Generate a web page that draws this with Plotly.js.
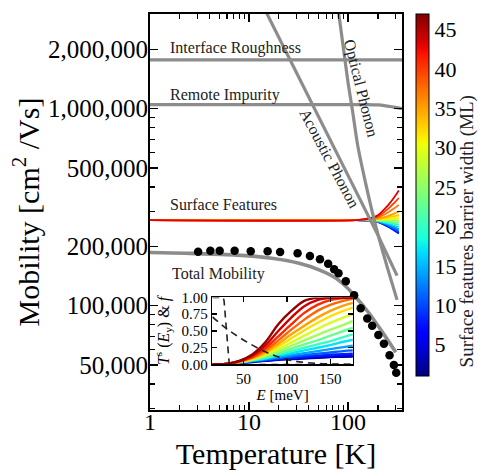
<!DOCTYPE html>
<html><head><meta charset="utf-8">
<script src="https://cdn.plot.ly/plotly-3.0.1.min.js"></script>
<style>html,body{margin:0;padding:0;background:#fff}</style>
</head><body><div id="chart" style="width:478px;height:470px"></div>
<script>
const FONT = '"Liberation Serif", "Times New Roman", serif';

// ---------- data ----------
// barrier widths (ML) of the curves in the main-plot fan and in the inset
const fanWidths = [6,8,10,12,14,17,20,23,26,29,31,33,35,37,40,43];
const insetWidths = [2,5,8,11,14,17,20,23,26,29,32,35,38,41,44,46];

const sfTemp = [1,120,160,200,250,290,325];
const sfMob = [
 [272e3,272e3,270e3,265.5e3,252.5e3,241.5e3,232.5e3],
 [272e3,272e3,270e3,266e3,253e3,243e3,234e3],
 [272e3,272e3,270.5e3,266e3,255e3,245e3,237e3],
 [272e3,272e3,270.5e3,267e3,257e3,248e3,241e3],
 [272e3,272e3,271e3,268e3,259e3,251.5e3,245e3],
 [272e3,272e3,271e3,269e3,262e3,256e3,251e3],
 [272e3,272e3,271.5e3,270e3,265e3,260.5e3,257e3],
 [272e3,272e3,272e3,271e3,268e3,265e3,263e3],
 [272e3,272e3,272e3,272e3,271e3,270e3,269e3],
 [272e3,272e3,272e3,273e3,274e3,275e3,276e3],
 [272e3,272e3,273e3,274e3,277e3,280e3,282e3],
 [272e3,272e3,273e3,275e3,280e3,285e3,289e3],
 [272e3,272e3,274e3,277e3,285e3,293e3,300e3],
 [272e3,272e3,275e3,280e3,296e3,311e3,325e3],
 [272e3,272e3,276e3,284e3,308e3,331e3,352e3],
 [272e3,272e3,277e3,288e3,321e3,353e3,384e3]
];

const irTemp = [1,350];
const irMob = [1.77e6,1.77e6];

const riTemp = [1,150,200,250,300,350];
const riMob = [1.05e6,1.05e6,1.045e6,1.03e6,1.015e6,1.0e6];

const acTemp = [14,20,50,100,200,312];
const acMob = [3.29e6,2.3e6,9.2e5,4.6e5,2.28e5,1.42e5];

const opTemp = [78,80,90,100,110,125,150,175,200,250,312];
const opMob = [3.4e6,3.1e6,2.0e6,1.35e6,1.0e6,6.5e5,4.2e5,3.0e5,2.3e5,1.55e5,1.07e5];

const totTemp = [1,2.3,6.9,17,32,51,75,95,115,163,220,303];
const totMob = [186e3,184.5e3,181e3,174e3,164e3,152e3,138e3,125e3,113e3,91.5e3,73.8e3,58e3];

const expTemp = [3.06,4.07,5.05,7.15,10.4,15.4,20.6,30.9,41.2,52,62.9,72.3,80,94.8,115,134,156,175,202,230,262,290,306];
const expMob = [188e3,190e3,190e3,190e3,189e3,189e3,187e3,184.5e3,178.8e3,172e3,163e3,153e3,146e3,133e3,113e3,97e3,86e3,79e3,71e3,64e3,56e3,50e3,45.6e3];

// inset
const insE = [14,30,45,60,75,90,105,120,135,150,165,176];
const insT = [
 [0,0.01,0.025,0.04,0.055,0.07,0.08,0.09,0.1,0.11,0.116,0.12],
 [0,0.01,0.026,0.042,0.06,0.075,0.09,0.1,0.11,0.12,0.127,0.13],
 [0,0.01,0.027,0.045,0.065,0.085,0.1,0.115,0.13,0.145,0.155,0.16],
 [0,0.01,0.028,0.05,0.07,0.095,0.12,0.14,0.16,0.18,0.2,0.21],
 [0,0.01,0.03,0.055,0.08,0.11,0.14,0.17,0.2,0.23,0.26,0.28],
 [0,0.01,0.032,0.06,0.09,0.13,0.17,0.21,0.25,0.29,0.34,0.37],
 [0,0.01,0.033,0.065,0.1,0.15,0.2,0.25,0.3,0.35,0.41,0.45],
 [0,0.01,0.035,0.07,0.115,0.17,0.235,0.3,0.36,0.43,0.5,0.55],
 [0,0.01,0.036,0.075,0.13,0.2,0.28,0.36,0.44,0.52,0.59,0.65],
 [0,0.01,0.038,0.08,0.145,0.23,0.33,0.43,0.53,0.62,0.7,0.75],
 [0,0.01,0.04,0.085,0.16,0.27,0.39,0.51,0.62,0.72,0.8,0.85],
 [0,0.01,0.042,0.095,0.18,0.31,0.45,0.58,0.7,0.8,0.88,0.92],
 [0,0.01,0.045,0.105,0.21,0.36,0.52,0.67,0.8,0.89,0.95,0.98],
 [0,0.01,0.048,0.115,0.24,0.42,0.6,0.77,0.89,0.96,0.99,1.0],
 [0,0.01,0.05,0.13,0.28,0.5,0.7,0.87,0.96,0.995,1,1],
 [0,0.01,0.055,0.15,0.33,0.6,0.8,0.95,0.995,1,1,1]
];
const fermiColdE = [14,26.5,27.5,30,32.5,33.5,176];
const fermiColdF = [1,1,0.95,0.5,0.05,0,0];
const fermiHotE = [14,30,47,67,86,109,133,156,176];
const fermiHotF = [0.71,0.54,0.39,0.24,0.13,0.05,0.018,0.006,0.002];

const xTickVals = [1,10,100];
const xTickText = ['1','10','100'];
const xMinor = [2,3,4,5,6,7,8,9,20,30,40,50,60,70,80,90,200,300];
const yTickVals = [5e4,1e5,2e5,5e5,1e6,2e6];
const yTickText = ['50,000','100,000','200,000','500,000','1,000,000','2,000,000'];
const yMinor = [3e4,4e4,6e4,7e4,8e4,9e4,3e5,4e5,6e5,7e5,8e5,9e5,3e6];
const cbTicks = [5,10,15,20,25,30,35,40,45];

// ---------- style helpers ----------
function seg(pts, t){
  for(let i=0;i<pts.length-1;i++){
    const [x0,y0]=pts[i],[x1,y1]=pts[i+1];
    if(t<=x1) return y0+(y1-y0)*(t-x0)/(x1-x0);
  }
  return pts[pts.length-1][1];
}
function jet(t){
  t=Math.max(0,Math.min(1,t));
  const r=seg([[0,0],[0.35,0],[0.66,1],[0.89,1],[1,0.5]],t);
  const g=seg([[0,0],[0.125,0],[0.375,1],[0.64,1],[0.91,0],[1,0]],t);
  const b=seg([[0,0.5],[0.11,1],[0.34,1],[0.65,0],[1,0]],t);
  return `rgb(${Math.round(r*255)},${Math.round(g*255)},${Math.round(b*255)})`;
}
const CMIN=1, CMAX=47;
const jetScale=[]; for(let i=0;i<=50;i++){ jetScale.push([i/50, jet(i/50)]); }
const GRAY='#8c8c8c';
const cw=w=>jet((w-CMIN)/(CMAX-CMIN));

const traces=[];
fanWidths.forEach((w,i)=>{
  traces.push({x:sfTemp,y:sfMob[i],mode:'lines',line:{color:cw(w),width:1.8,shape:'spline',smoothing:0.8},hoverinfo:'skip'});
});
traces.push({x:irTemp,y:irMob,mode:'lines',line:{color:GRAY,width:3.2},hoverinfo:'skip'});
traces.push({x:riTemp,y:riMob,mode:'lines',line:{color:GRAY,width:3.2,shape:'spline'},hoverinfo:'skip'});
traces.push({x:acTemp,y:acMob,mode:'lines',line:{color:GRAY,width:3.2},hoverinfo:'skip'});
traces.push({x:opTemp,y:opMob,mode:'lines',line:{color:GRAY,width:3.2,shape:'spline',smoothing:0.6},hoverinfo:'skip'});
traces.push({x:totTemp,y:totMob,mode:'lines',line:{color:GRAY,width:3.6,shape:'spline',smoothing:0.8},hoverinfo:'skip'});
traces.push({x:expTemp,y:expMob,mode:'markers',marker:{color:'black',size:8.5},hoverinfo:'skip'});
insetWidths.forEach((w,i)=>{
  traces.push({x:insE,y:insT[i],xaxis:'x2',yaxis:'y2',mode:'lines',line:{color:cw(w),width:2.4,shape:'spline',smoothing:0.9},hoverinfo:'skip'});
});
traces.push({x:fermiColdE,y:fermiColdF,xaxis:'x2',yaxis:'y2',mode:'lines',line:{color:'#222',width:1.6,dash:'7px,5px'},hoverinfo:'skip'});
traces.push({x:fermiHotE,y:fermiHotF,xaxis:'x2',yaxis:'y2',mode:'lines',line:{color:'#222',width:1.6,dash:'7px,5px',shape:'spline'},hoverinfo:'skip'});
// colorbar carrier (point outside the axis range, so only the colour bar shows)
traces.push({x:[0.5],y:[1e5],mode:'markers',marker:{size:1,color:[fanWidths[0]],colorscale:jetScale,cmin:CMIN,cmax:CMAX,showscale:true,
  colorbar:{x:1.056,xanchor:'left',y:1,yanchor:'top',len:362,lenmode:'pixels',thickness:13,thicknessmode:'pixels',xpad:0,ypad:0,
    outlinewidth:1,outlinecolor:'black',tickmode:'array',tickvals:cbTicks,ticks:'',tickfont:{family:FONT,size:22,color:'black'}}},hoverinfo:'skip'});

const axBase={showline:true,linecolor:'black',linewidth:2,mirror:'ticks',ticks:'inside',tickcolor:'black',showgrid:false,zeroline:false};
const ann=(text,x,y,size,extra)=>Object.assign({text,x,y,xref:'paper',yref:'paper',showarrow:false,font:{family:FONT,size,color:'#222'},xanchor:'left',yanchor:'middle'},extra||{});

const layout={
  width:478,height:470,
  margin:{l:150,r:75.5,t:14,b:60},
  paper_bgcolor:'white',plot_bgcolor:'white',
  font:{family:FONT,color:'black'},
  showlegend:false,
  xaxis:Object.assign({},axBase,{type:'log',range:[0,Math.log10(350)],tickmode:'array',tickvals:xTickVals,ticktext:xTickText,ticklen:8,tickwidth:1.5,
    tickfont:{family:FONT,size:24},ticklabelstandoff:-11,minor:{tickmode:'array',tickvals:xMinor,ticks:'inside',ticklen:5,tickwidth:1.2,tickcolor:'black'},
    title:{text:'Temperature [K]',font:{family:FONT,size:30},standoff:9}}),
  yaxis:Object.assign({},axBase,{type:'log',range:[4.47,6.481],tickmode:'array',tickvals:yTickVals,ticktext:yTickText,ticklen:8,tickwidth:1.5,
    tickfont:{family:FONT,size:25},ticklabelstandoff:-5,minor:{tickmode:'array',tickvals:yMinor,ticks:'inside',ticklen:5,tickwidth:1.2,tickcolor:'black'},
    title:{text:'Mobility [cm<sup>2</sup> /Vs]',font:{family:FONT,size:30},standoff:0}}),
  xaxis2:Object.assign({},axBase,{domain:[0.2475,0.8051],anchor:'y2',range:[14,176],linewidth:1.5,tickmode:'array',tickvals:[50,100,150],ticklen:5,tickwidth:1.5,
    tickfont:{family:FONT,size:15},title:{text:'<i>E</i> [meV]',font:{family:FONT,size:15},standoff:0}}),
  yaxis2:Object.assign({},axBase,{domain:[0.1149,0.2841],anchor:'x2',range:[0,1],linewidth:1.5,tickmode:'array',tickvals:[0,0.25,0.5,0.75,1],
    ticktext:['0.00','0.25','0.50','0.75','1.00'],ticklen:5,tickwidth:1.5,tickfont:{family:FONT,size:15},
    title:{text:'<i>T</i><sup>s</sup> (<i>E</i><sub>y</sub>) &amp; <i>f</i>',font:{family:FONT,size:16},standoff:8}}),
  annotations:[
    ann('Interface Roughness',0.0713,0.914,16),
    ann('Remote Impurity',0.0713,0.795,16),
    ann('Surface Features',0.0713,0.518,16),
    ann('Total Mobility',0.079,0.344,16),
    ann('Acoustic Phonon',0.712,0.634,16,{xanchor:'center',textangle:62}),
    ann('Optical Phonon',0.836,0.813,16,{xanchor:'center',textangle:76}),
    ann('Surface features barrier width (ML)',1.2594,0.452,19,{xanchor:'center',textangle:-90})
  ]
};
Plotly.newPlot('chart',traces,layout,{staticPlot:true,displayModeBar:false});
</script></body></html>
